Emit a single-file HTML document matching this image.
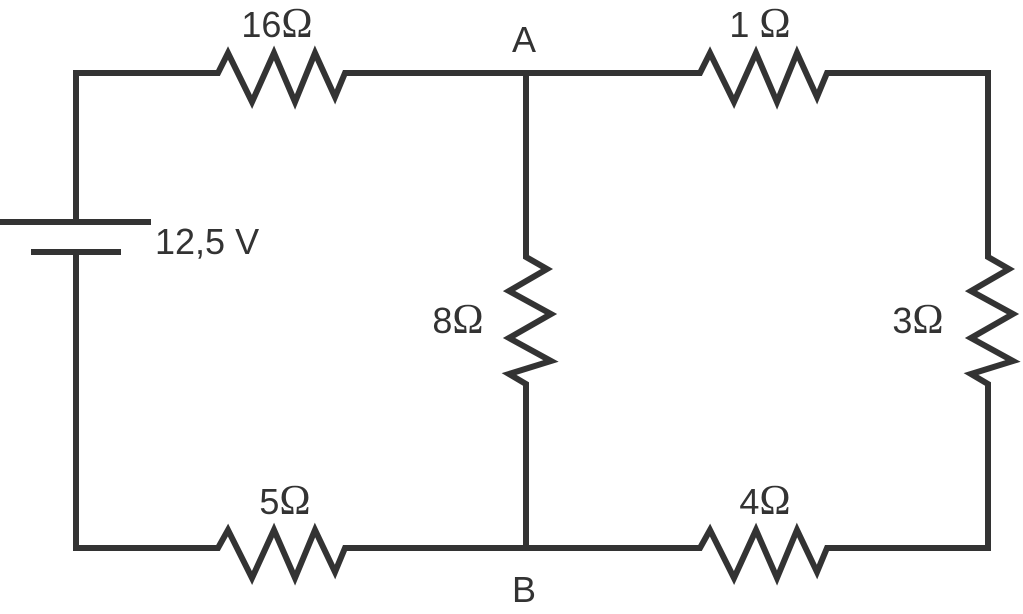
<!DOCTYPE html>
<html><head><style>
html,body{margin:0;padding:0;background:#fff;}
svg{display:block}
text{font-family:"Liberation Sans",sans-serif;font-size:36px;fill:#333}
tspan.o{font-family:"Liberation Serif",serif;font-size:42px;}
</style></head><body>
<svg width="1023" height="614" viewBox="0 0 1023 614">
<g fill="none" stroke="#333" stroke-width="6" stroke-linejoin="miter" stroke-linecap="butt">
<polyline points="76,222 76,73 218,73 228,53 252,102 274,53 295,102 315,53 335,97 345,73 526,73"/>
<polyline points="526,73 700,73 710,53 734,102 756,53 777,102 797,53 817,97 827,73 988,73 988,255"/>
<polyline points="526,73 526,257 547,269 509,291 551,314 509,338 551,361 509,374 526,384 526,548"/>
<polyline points="988,255 988,257 1009,269 971,291 1013,314 971,338 1013,361 971,374 988,384 988,548"/>
<polyline points="76,252 76,548 218,548 228,530 252,578 274,530 295,578 315,530 335,572 345,548 526,548 700,548 710,530 734,578 756,530 777,578 797,530 817,572 827,548 991,548"/>
<line x1="0" y1="222" x2="151" y2="222"/>
<line x1="31" y1="252" x2="121" y2="252"/>
</g>
<text x="277" y="37" text-anchor="middle">16<tspan class="o">Ω</tspan></text>
<text x="524" y="52" text-anchor="middle">A</text>
<text x="760" y="37" text-anchor="middle">1 <tspan class="o">Ω</tspan></text>
<text x="155" y="254">12,5 V</text>
<text x="458" y="333" text-anchor="middle">8<tspan class="o">Ω</tspan></text>
<text x="918" y="333" text-anchor="middle">3<tspan class="o">Ω</tspan></text>
<text x="285" y="514" text-anchor="middle">5<tspan class="o">Ω</tspan></text>
<text x="765" y="514" text-anchor="middle">4<tspan class="o">Ω</tspan></text>
<text x="524" y="602" text-anchor="middle">B</text>
</svg>
</body></html>
